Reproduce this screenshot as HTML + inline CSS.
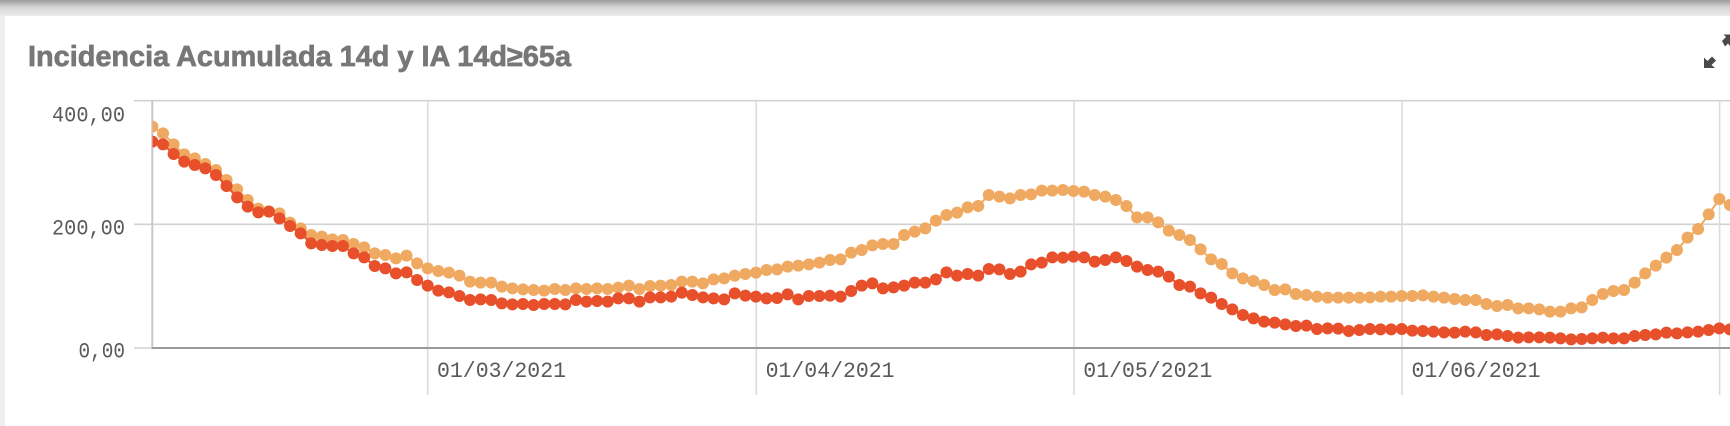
<!DOCTYPE html>
<html>
<head>
<meta charset="utf-8">
<style>
html,body{margin:0;padding:0;background:#fff;}
body{width:1730px;height:426px;overflow:hidden;position:relative;}
svg{position:absolute;left:0;top:0;display:block;}
.mono{font-family:"Liberation Mono","DejaVu Sans Mono",monospace;font-size:22px;fill:#5a5a5a;}
</style>
</head>
<body>
<svg width="1730" height="426" viewBox="0 0 1730 426" xmlns="http://www.w3.org/2000/svg">
  <defs>
    <linearGradient id="tb" x1="0" y1="0" x2="0" y2="1">
      <stop offset="0" stop-color="#9a9a9a"/>
      <stop offset="0.45" stop-color="#d4d4d4"/>
      <stop offset="1" stop-color="#ececec"/>
    </linearGradient>
    <clipPath id="plot">
      <rect x="152.5" y="85" width="1578" height="268"/>
    </clipPath>
    <marker id="mo" markerUnits="userSpaceOnUse" refX="0" refY="0" markerWidth="1" markerHeight="1" overflow="visible">
      <ellipse cx="0" cy="0" rx="0.567" ry="18" fill="#efa961"/>
    </marker>
    <marker id="mr" markerUnits="userSpaceOnUse" refX="0" refY="0" markerWidth="1" markerHeight="1" overflow="visible">
      <ellipse cx="0" cy="0" rx="0.567" ry="18" fill="#e8502b"/>
    </marker>
  </defs>

  <!-- top bar and left strip -->
  <rect x="0" y="0" width="1730" height="16" fill="url(#tb)"/>
  <rect x="0" y="16" width="5" height="410" fill="#efefef"/>

  <!-- title -->
  <text x="28" y="66" textLength="543" lengthAdjust="spacingAndGlyphs" font-family="Liberation Sans, Arial, sans-serif" font-weight="bold" font-size="29" fill="#777777" stroke="#777777" stroke-width="0.7">Incidencia Acumulada 14d y IA 14d≥65a</text>

  <!-- icons top-right -->
  <polygon points="1704,68 1704,57.5 1707.5,61 1712,56.5 1716,60.5 1711.5,65 1715,68" fill="#4a4a4a"/>
  <polygon points="1722,41 1726,37 1723.5,34.5 1730,34.5 1730,46 1728,43.5 1725,46.5" fill="#4a4a4a"/>

  <!-- horizontal gridlines + y ticks -->
  <line x1="134" y1="100.7" x2="1730" y2="100.7" stroke="#d2d2d2" stroke-width="1.6"/>
  <line x1="134" y1="224.3" x2="1730" y2="224.3" stroke="#d2d2d2" stroke-width="1.6"/>
  <line x1="134" y1="348" x2="151" y2="348" stroke="#d2d2d2" stroke-width="1.6"/>

  <!-- vertical gridlines -->
  <line x1="427.7" y1="100" x2="427.7" y2="395" stroke="#dcdcdc" stroke-width="1.6"/>
  <line x1="756.3" y1="100" x2="756.3" y2="395" stroke="#dcdcdc" stroke-width="1.6"/>
  <line x1="1073.9" y1="100" x2="1073.9" y2="395" stroke="#dcdcdc" stroke-width="1.6"/>
  <line x1="1402.1" y1="100" x2="1402.1" y2="395" stroke="#dcdcdc" stroke-width="1.6"/>
  <line x1="1719.6" y1="100" x2="1719.6" y2="395" stroke="#dcdcdc" stroke-width="1.6"/>

  <!-- axes -->
  <line x1="152.3" y1="100" x2="152.3" y2="349" stroke="#c8c8c8" stroke-width="2"/>
  <line x1="151.5" y1="348" x2="1730" y2="348" stroke="#9a9a9a" stroke-width="2"/>

  <!-- y labels -->
  <text class="mono" x="52" y="121.5" textLength="73" lengthAdjust="spacingAndGlyphs">400,00</text>
  <text class="mono" x="52" y="234.5" textLength="73" lengthAdjust="spacingAndGlyphs">200,00</text>
  <text class="mono" x="78.5" y="357.5" textLength="46.5" lengthAdjust="spacingAndGlyphs">0,00</text>

  <!-- x labels -->
  <text class="mono" x="437" y="377" textLength="129" lengthAdjust="spacingAndGlyphs">01/03/2021</text>
  <text class="mono" x="765.6" y="377" textLength="129" lengthAdjust="spacingAndGlyphs">01/04/2021</text>
  <text class="mono" x="1083.3" y="377" textLength="129" lengthAdjust="spacingAndGlyphs">01/05/2021</text>
  <text class="mono" x="1411.5" y="377" textLength="129" lengthAdjust="spacingAndGlyphs">01/06/2021</text>

  <!-- series -->
  <g clip-path="url(#plot)">
    <polyline transform="translate(152.44,100) scale(10.587,0.333333)" fill="none" stroke="#efa961" stroke-width="2" vector-effect="non-scaling-stroke" stroke-linejoin="round"
      marker-start="url(#mo)" marker-mid="url(#mo)" marker-end="url(#mo)"
      points="0,80 1,100 2,133 3,163 4,175 5,192 6,210 7,240 8,268 9,300 10,326 11,334 12,340 13,368 14,385 15,405 16,410 17,418 18,420 19,432 20,442 21,460 22,465 23,475 24,467 25,490 26,505 27,513 28,518 29,527 30,545 31,548 32,548 33,560 34,565 35,568 36,570 37,572 38,567 39,570 40,565 41,567 42,565 43,567 44,563 45,557 46,567 47,558 48,557 49,555 50,545 51,545 52,550 53,538 54,535 55,527 56,522 57,518 58,510 59,508 60,500 61,497 62,493 63,488 64,480 65,478 66,458 67,450 68,436 69,432 70,432 71,405 72,395 73,385 74,362 75,345 76,338 77,322 78,318 79,285 80,290 81,295 82,285 83,283 84,272 85,272 86,270 87,273 88,275 89,285 90,290 91,300 92,318 93,352 94,352 95,367 96,392 97,405 98,420 99,448 100,478 101,492 102,520 103,535 104,543 105,555 106,570 107,568 108,582 109,585 110,590 111,593 112,593 113,593 114,593 115,592 116,590 117,590 118,588 119,588 120,586 121,590 122,593 123,597 124,600 125,600 126,612 127,618 128,615 129,625 130,625 131,628 132,635 133,635 134,625 135,622 136,600 137,582 138,573 139,570 140,548 141,520 142,497 143,473 144,450 145,413 146,387 147,343 148,297 149,315"/>
    <polyline transform="translate(152.44,100) scale(10.587,0.333333)" fill="none" stroke="#e8502b" stroke-width="2" vector-effect="non-scaling-stroke" stroke-linejoin="round"
      marker-start="url(#mr)" marker-mid="url(#mr)" marker-end="url(#mr)"
      points="0,125 1,133 2,162 3,185 4,195 5,205 6,225 7,258 8,292 9,320 10,337 11,335 12,355 13,378 14,400 15,430 16,435 17,438 18,438 19,460 20,472 21,498 22,505 23,520 24,517 25,540 26,557 27,572 28,577 29,588 30,600 31,598 32,600 33,610 34,613 35,612 36,615 37,612 38,612 39,613 40,600 41,605 42,603 43,605 44,595 45,595 46,605 47,592 48,592 49,590 50,578 51,585 52,592 53,595 54,598 55,580 56,587 57,590 58,595 59,594 60,583 61,598 62,588 63,588 64,587 65,590 66,573 67,557 68,550 69,565 70,562 71,557 72,548 73,548 74,538 75,517 76,527 77,522 78,527 79,507 80,508 81,522 82,515 83,493 84,488 85,472 86,473 87,470 88,472 89,485 90,480 91,472 92,483 93,500 94,510 95,515 96,530 97,555 98,560 99,580 100,593 101,612 102,628 103,645 104,655 105,665 106,668 107,673 108,678 109,677 110,687 111,685 112,686 113,693 114,690 115,687 116,688 117,688 118,687 119,692 120,693 121,695 122,697 123,698 124,695 125,697 126,705 127,703 128,708 129,713 130,712 131,712 132,713 133,715 134,718 135,717 136,715 137,713 138,715 139,715 140,708 141,705 142,703 143,698 144,700 145,697 146,695 147,690 148,685 149,688"/>
  </g>
</svg>
</body>
</html>
